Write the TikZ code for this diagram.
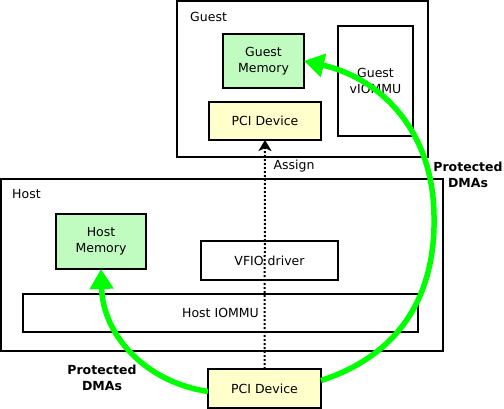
\documentclass[tikz,border=0pt]{standalone}
\usepackage{fontspec}
\setmainfont{DejaVu Sans}
\usetikzlibrary{arrows.meta,calc}
\definecolor{memgreen}{RGB}{192,252,192}
\definecolor{devyellow}{RGB}{255,255,204}
\definecolor{dmagreen}{RGB}{0,255,0}
\tikzset{
  box/.style={draw=black, line width=2pt, fill=white, inner sep=0pt, outer sep=0pt, align=center,
    font=\fontsize{12.5}{16}\selectfont},
  membox/.style={box, fill=memgreen},
  devbox/.style={box, fill=devyellow},
  lbl/.style={inner sep=0pt, font=\fontsize{12.5}{16}\selectfont},
  dmalbl/.style={inner sep=0pt, align=center, font=\fontsize{12.5}{16}\selectfont\bfseries},
  assignline/.style={line width=2pt, dotted, -{Stealth[length=11pt,width=13pt,inset=3pt]}},
  dma/.style={line width=5.5pt, draw=dmagreen, -{Triangle[length=20pt,width=23pt]}}
}
\begin{document}
\begin{tikzpicture}[x=1pt,y=-1pt]
\useasboundingbox (0,0) rectangle (504,409);
% Guest
\node[box, minimum width=251pt, minimum height=156pt] (guest) at (302.5,79) {};
\node[lbl, anchor=west] (guestlbl) at (190,17) {Guest};
\node[membox, minimum width=81pt, minimum height=54pt] (gmem) at (263.5,61) {Guest\\Memory};
\node[devbox, minimum width=112pt, minimum height=38pt] (gpci) at (265,121) {PCI Device};
\node[box, minimum width=75pt, minimum height=110pt] (viommu) at (375.5,81) {Guest\\vIOMMU};
% Host
\node[box, minimum width=442pt, minimum height=172pt] (host) at (222,265) {};
\node[lbl, anchor=west] (hostlbl) at (12,194) {Host};
\node[membox, minimum width=90pt, minimum height=55pt] (hmem) at (101,241.5) {Host\\Memory};
\node[box, minimum width=137pt, minimum height=39pt] (vfio) at (269.5,260.5) {VFIO driver};
\node[box, minimum width=395pt, minimum height=38pt] (hiommu) at (220.5,313) {Host IOMMU};
\node[devbox, minimum width=113pt, minimum height=39pt] (hpci) at (264.5,388.5) {PCI Device};
% Assign
\draw[assignline] (hpci.north) -- (gpci.south);
\node[lbl] (assignlbl) at (294,166) {Assign};
% DMAs
\draw[dma] ($(hpci.west)+(0,3)$) .. controls (145,382) and (103,335) .. (hmem.south);
\draw[dma] ($(hpci.east)+(0,-8)$) .. controls (400,355) and (436,295) .. (434,215)
  .. controls (433,130) and (380,78) .. (gmem.east);
\node[dmalbl] (dmaleft) at (102,378) {Protected\\DMAs};
\node[dmalbl] (dmaright) at (468,175) {Protected\\DMAs};
\end{tikzpicture}
\end{document}
